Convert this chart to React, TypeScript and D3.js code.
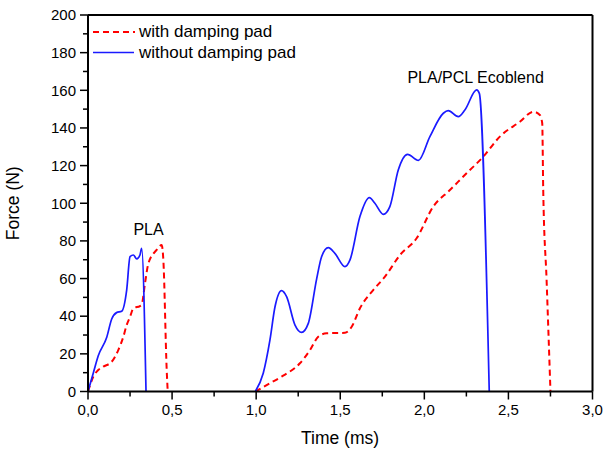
import React from "react";
import * as d3 from "d3";

// ---- data (time in ms, force in N) ----
const withoutPLA_t = [0, 0.032, 0.061, 0.111, 0.141, 0.17, 0.2, 0.23, 0.25, 0.27, 0.29, 0.309, 0.319, 0.345];
const withoutPLA_f = [0, 10, 19, 28.7, 38.5, 41.9, 42.6, 53.9, 71.6, 72.5, 70.4, 72.5, 76, 0];

const withPLA_t = [0, 0.032, 0.061, 0.091, 0.141, 0.18, 0.21, 0.23, 0.25, 0.27, 0.309, 0.319, 0.339, 0.359, 0.408, 0.438, 0.448, 0.468, 0.474];
const withPLA_f = [0, 7.9, 11.4, 13.2, 15.8, 22, 29, 35.3, 39.7, 44.2, 45.4, 46, 57.5, 68, 75.2, 77.8, 70, 11.4, 0];

const withoutEco_t = [0.995, 1.042, 1.082, 1.112, 1.151, 1.181, 1.231, 1.27, 1.31, 1.36, 1.389, 1.429, 1.468, 1.528, 1.558, 1.617, 1.673, 1.706, 1.756, 1.795, 1.845, 1.9, 1.965, 2.033, 2.113, 2.142, 2.202, 2.241, 2.311, 2.327, 2.386];
const withoutEco_f = [0, 9.7, 27.4, 45, 53.6, 50.4, 35.3, 31.4, 36.2, 60, 71.6, 76.4, 73.4, 66.3, 69.9, 92.9, 103, 100, 94.1, 98.2, 117.7, 126, 122.8, 135.4, 147.8, 149.2, 146, 149.5, 160.2, 158.4, 0];

const withEco_t = [0.995, 1.082, 1.151, 1.26, 1.32, 1.369, 1.419, 1.528, 1.568, 1.617, 1.696, 1.766, 1.855, 1.954, 2.053, 2.152, 2.251, 2.35, 2.449, 2.568, 2.648, 2.687, 2.701, 2.707, 2.727, 2.75];
const withEco_f = [0, 4.4, 7.9, 15, 22, 29.1, 30.9, 31.2, 34.4, 44.2, 53.9, 61, 72.5, 81.4, 98.2, 107, 115.9, 124.7, 135.4, 143.3, 148.6, 146.9, 142.5, 107, 59.2, 0];

const xMajorTicks = [0, 0.5, 1.0, 1.5, 2.0, 2.5, 3.0];
const xMinorTicks = [0.25, 0.75, 1.25, 1.75, 2.25, 2.75];
const yMajorTicks = [0, 20, 40, 60, 80, 100, 120, 140, 160, 180, 200];
const yMinorTicks = [10, 30, 50, 70, 90, 110, 130, 150, 170, 190];

const legendLabels = ["with damping pad", "without damping pad"];
const annotations = [
  { label: "PLA", t: 0.36, f: 83 },
  { label: "PLA/PCL Ecoblend", t: 2.305, f: 164 },
];

const FONT = "'Liberation Sans', Arial, sans-serif";

export default function App() {
  const x = d3.scaleLinear().domain([0, 3]).range([88, 592.5]);
  const y = d3.scaleLinear().domain([0, 200]).range([391.5, 15]);
  const fmt = d3.formatLocale({ decimal: ",", thousands: ".", grouping: [3], currency: ["", ""] }).format(".1f");

  const line = (ts: number[], fs: number[]) =>
    d3
      .line<number>()
      .x((_, i) => x(ts[i]))
      .y((d) => y(d))
      .curve(d3.curveMonotoneX)(fs) || "";

  const red = "#ff0000";
  const blue = "#1a1aff";

  return (
    <svg width={603} height={450} style={{ position: "absolute", left: 0, top: 0, background: "#fff" }} fontFamily={FONT}>
      <rect x={0} y={0} width={603} height={450} fill="#fff" />
      {/* data */}
      <path d={line(withPLA_t, withPLA_f)} fill="none" stroke={red} strokeWidth={2} strokeDasharray="6,4" />
      <path d={line(withEco_t, withEco_f)} fill="none" stroke={red} strokeWidth={2} strokeDasharray="6,4" />
      <path d={line(withoutPLA_t, withoutPLA_f)} fill="none" stroke={blue} strokeWidth={1.7} />
      <path d={line(withoutEco_t, withoutEco_f)} fill="none" stroke={blue} strokeWidth={1.7} />

      {/* frame */}
      <g stroke="#000" strokeWidth={2} fill="none">
        <line x1={x(0)} x2={x(3)} y1={y(200)} y2={y(200)} />
        <line x1={x(3)} x2={x(3)} y1={y(200)} y2={y(0)} />
        <line x1={x(0)} x2={x(3)} y1={y(0)} y2={y(0)} />
        <line x1={x(0)} x2={x(0)} y1={y(200)} y2={y(0)} />
      </g>
      {/* ticks */}
      <g stroke="#000" strokeWidth={1.5}>
        {yMajorTicks.map((v) => (
          <line key={"ym" + v} x1={x(0) - 8} x2={x(0)} y1={y(v)} y2={y(v)} />
        ))}
        {yMinorTicks.map((v) => (
          <line key={"yn" + v} x1={x(0) - 5} x2={x(0)} y1={y(v)} y2={y(v)} />
        ))}
        {xMajorTicks.map((v) => (
          <line key={"xm" + v} x1={x(v)} x2={x(v)} y1={y(0)} y2={y(0) + 8} />
        ))}
        {xMinorTicks.map((v) => (
          <line key={"xn" + v} x1={x(v)} x2={x(v)} y1={y(0)} y2={y(0) + 5} />
        ))}
      </g>
      <g fontSize={15} fill="#000">
        {yMajorTicks.map((v) => (
          <text key={"yl" + v} x={x(0) - 12} y={y(v)} dy="0.35em" textAnchor="end">
            {v}
          </text>
        ))}
        {xMajorTicks.map((v) => (
          <text key={"xl" + v} x={x(v)} y={415} textAnchor="middle">
            {fmt(v)}
          </text>
        ))}
      </g>
      {/* axis titles */}
      <text x={340} y={444} textAnchor="middle" fontSize={17.5}>
        Time (ms)
      </text>
      <text transform={`translate(19, ${y(100)}) rotate(-90)`} textAnchor="middle" fontSize={17.5}>
        Force (N)
      </text>
      {/* annotations */}
      {annotations.map((a) => (
        <text key={a.label} x={x(a.t)} y={y(a.f)} textAnchor="middle" fontSize={16}>
          {a.label}
        </text>
      ))}
      {/* legend */}
      <line x1={93} x2={135} y1={32} y2={32} stroke={red} strokeWidth={2} strokeDasharray="6,4" />
      <text x={139} y={37} fontSize={17}>
        {legendLabels[0]}
      </text>
      <line x1={93} x2={134} y1={52.5} y2={52.5} stroke={blue} strokeWidth={1.7} />
      <text x={139} y={58} fontSize={17}>
        {legendLabels[1]}
      </text>
    </svg>
  );
}
